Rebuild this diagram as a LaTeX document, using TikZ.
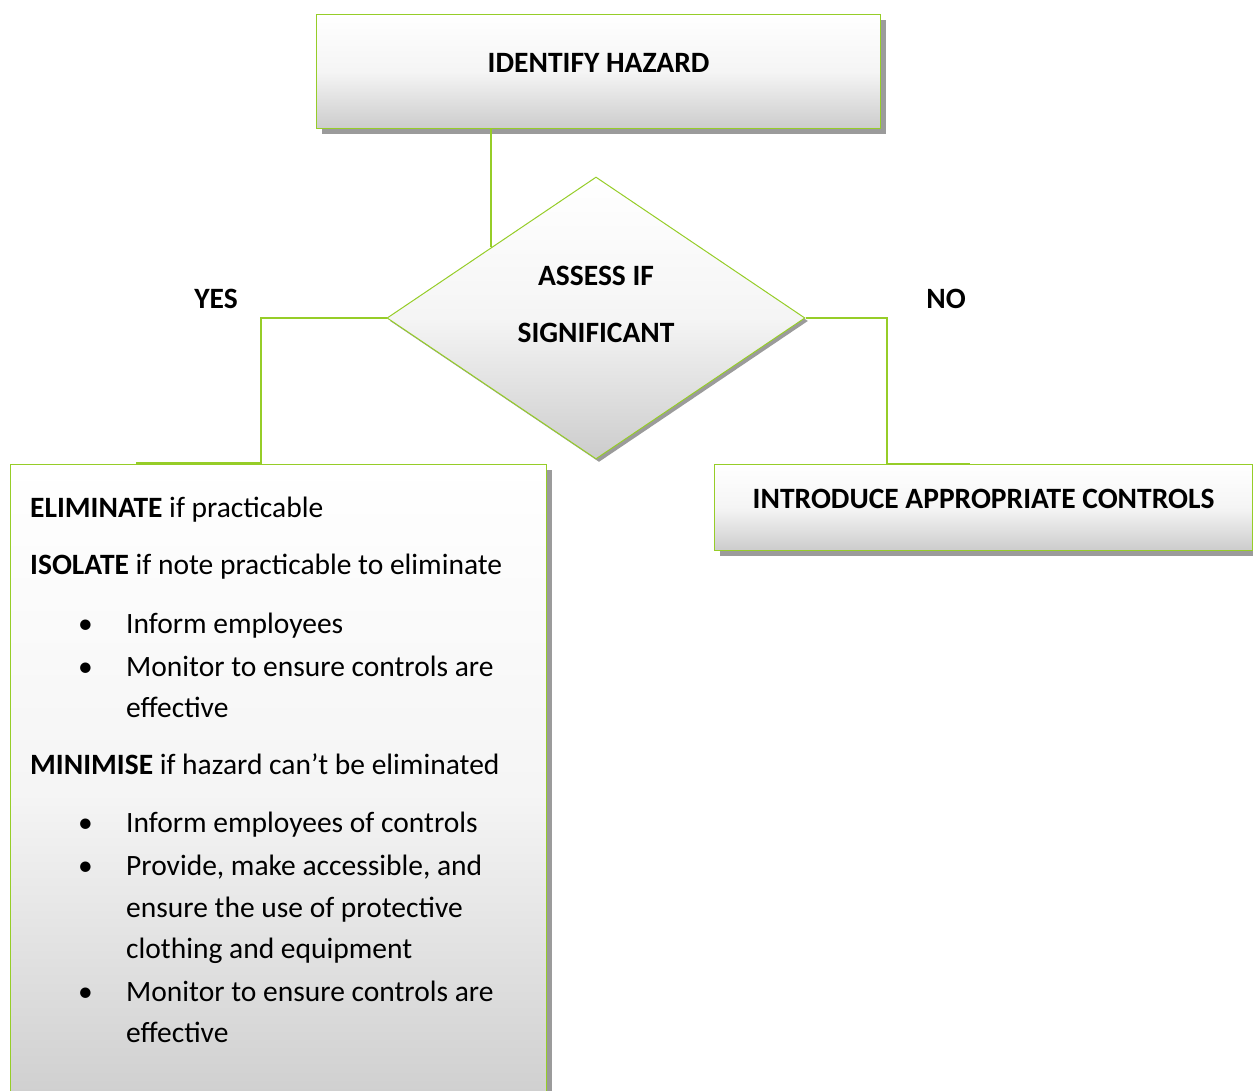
\documentclass[tikz,border=0pt]{standalone}
\usepackage{fontspec}
\setmainfont{Carlito}
\usetikzlibrary{shapes.geometric,shadows}
\definecolor{limeline}{RGB}{150,205,40}
\definecolor{shadowgray}{RGB}{155,155,155}

\begin{document}
\begin{tikzpicture}[x=1pt,y=-1pt,
    box/.style={draw=limeline, line width=1.2pt, inner sep=0pt,
      top color=white, bottom color=black!20, middle color=white!96!black,
      drop shadow={shadow xshift=5pt, shadow yshift=-5pt, fill=shadowgray, opacity=1}},
    decision/.style={diamond, draw=limeline, line width=1pt, inner sep=0pt,
      minimum width=418pt, minimum height=282pt,
      top color=white, bottom color=black!20, middle color=white!96!black,
      drop shadow={shadow xshift=3pt, shadow yshift=-3pt, fill=shadowgray, opacity=1}},
    link/.style={draw=limeline, line width=2pt},
    title/.style={font=\fontsize{29.5}{35}\selectfont\bfseries, inner sep=0pt},
    item/.style={font=\fontsize{29.5}{35}\selectfont, inner sep=0pt, anchor=base west}]
  \clip (0,0) rectangle (1253,1090);

  % Kaesten
  \node[box, anchor=north west, minimum width=564pt, minimum height=114pt] (hazard) at (316,14) {};
  \node[decision] (assess) at (596,318) {};
  \node[box, anchor=north west, minimum width=536pt, minimum height=660pt] (actions) at (10,464) {};
  \node[box, anchor=north west, minimum width=538pt, minimum height=86pt] (controls) at (714,464) {};

  % Titel
  \node[title] (hazardtxt) at ([yshift=9pt]hazard.center) {IDENTIFY HAZARD};
  \node[title, align=center, font=\fontsize{29.5}{57}\selectfont\bfseries] (assesstxt) at ([yshift=14pt]assess.center) {ASSESS IF\\SIGNIFICANT};
  \node[title] (controlstxt) at ([yshift=9pt]controls.center) {INTRODUCE APPROPRIATE CONTROLS};
  \node[title] (yes) at (216,299) {YES};
  \node[title] (no) at (946,299) {NO};

  % Verbindungen
  \coordinate (yesturn) at (261,463);
  \coordinate (yesend) at (136,463);
  \coordinate (noturn) at (887,464);
  \coordinate (noend) at (970,464);
  \draw[link] (hazard.south -| assess.north west) -- (assess.north west);
  \draw[link] (assess.west) -| (yesturn) -- (yesend);
  \draw[link] (assess.east) -| (noturn) -- (noend);

  % Massnahmen
  \node[item] (elim) at (30,517) {\textbf{ELIMINATE} if practicable};
  \node[item] (isol) at (30,574) {\textbf{ISOLATE} if note practicable to eliminate};
  \node[item] (dota) at (78,633) {•};
  \node[item] (infa) at (126,633) {Inform employees};
  \node[item] (dotb) at (78,676) {•};
  \node[item] (mona) at (126,676) {Monitor to ensure controls are};
  \node[item] (monb) at (126,717) {effective};
  \node[item] (mini) at (30,774) {\textbf{MINIMISE} if hazard can’t be eliminated};
  \node[item] (dotc) at (78,832) {•};
  \node[item] (infb) at (126,832) {Inform employees of controls};
  \node[item] (dotd) at (78,875) {•};
  \node[item] (prova) at (126,875) {Provide, make accessible, and};
  \node[item] (provb) at (126,917) {ensure the use of protective};
  \node[item] (provc) at (126,958) {clothing and equipment};
  \node[item] (dote) at (78,1001) {•};
  \node[item] (monc) at (126,1001) {Monitor to ensure controls are};
  \node[item] (mond) at (126,1042) {effective};
\end{tikzpicture}
\end{document}
